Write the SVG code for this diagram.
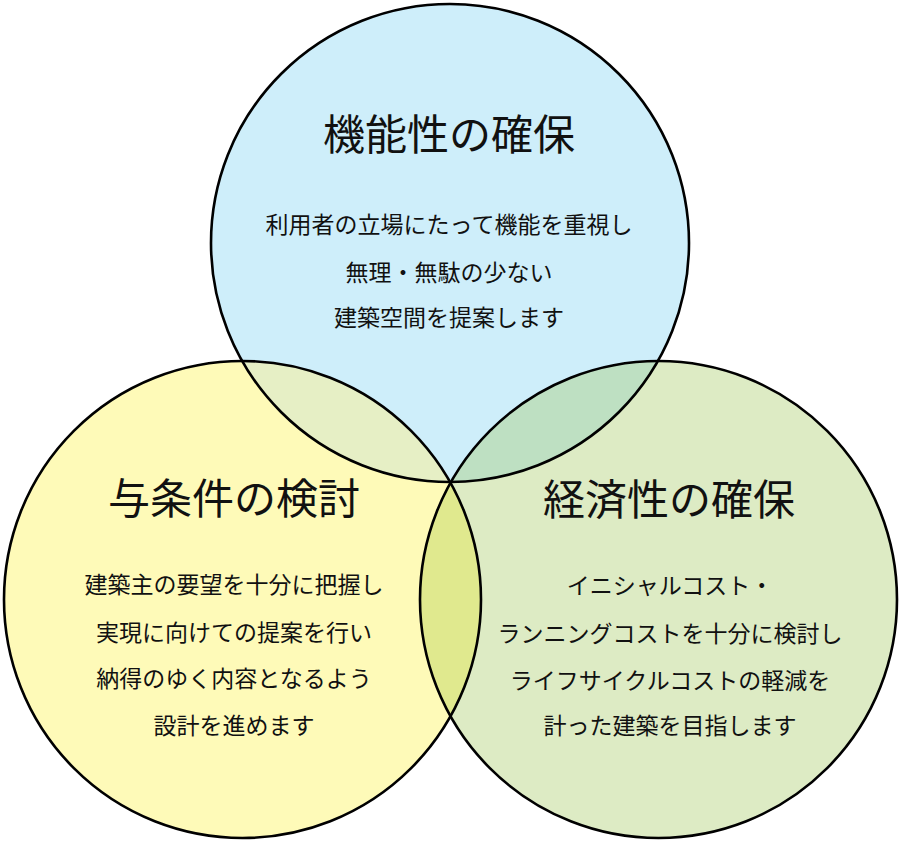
<svg xmlns="http://www.w3.org/2000/svg" width="900" height="843" viewBox="0 0 900 843">
<style>
.t{font-family:"Noto Sans CJK JP","Noto Sans CJK SC",sans-serif;fill:#111;text-anchor:middle}
.h{font-size:42px}
.b{font-size:23px}
.o{fill:none;stroke:#000;stroke-width:2.6}
</style>
<defs>
<clipPath id="cpTop"><circle cx="450" cy="243" r="239"/></clipPath>
<clipPath id="cpLeft"><circle cx="242.5" cy="599.5" r="238.5"/></clipPath>
</defs>
<rect width="900" height="843" fill="#fff"/>
<g id="node-top">
<circle cx="450" cy="243" r="239" fill="#CEEEFA"/>
</g>
<g id="node-left">
<circle cx="242.5" cy="599.5" r="238.5" fill="#FEFAB8"/>
</g>
<g id="node-right">
<circle cx="658.5" cy="599.5" r="238.5" fill="#DDEBC4"/>
</g>
<g id="overlaps">
<circle cx="242.5" cy="599.5" r="238.5" fill="#E6EFC5" clip-path="url(#cpTop)"/>
<circle cx="658.5" cy="599.5" r="238.5" fill="#BEE0C2" clip-path="url(#cpTop)"/>
<circle cx="658.5" cy="599.5" r="238.5" fill="#E0E98E" clip-path="url(#cpLeft)"/>
</g>
<g id="outlines">
<circle class="o" cx="450" cy="243" r="239"/>
<circle class="o" cx="242.5" cy="599.5" r="238.5"/>
<circle class="o" cx="658.5" cy="599.5" r="238.5"/>
</g>
<g id="label-top" class="t">
<text class="h" x="449" y="150">機能性の確保</text>
<text class="b" x="449" y="233">利用者の立場にたって機能を重視し</text>
<text class="b" x="449" y="281">無理・無駄の少ない</text>
<text class="b" x="449" y="326">建築空間を提案します</text>
</g>
<g id="label-left" class="t">
<text class="h" x="234" y="514">与条件の検討</text>
<text class="b" x="234" y="593">建築主の要望を十分に把握し</text>
<text class="b" x="234" y="641">実現に向けての提案を行い</text>
<text class="b" x="234" y="687">納得のゆく内容となるよう</text>
<text class="b" x="234" y="734">設計を進めます</text>
</g>
<g id="label-right" class="t">
<text class="h" x="669" y="515">経済性の確保</text>
<text class="b" x="670" y="594">イニシャルコスト・</text>
<text class="b" x="670" y="642">ランニングコストを十分に検討し</text>
<text class="b" x="670" y="689">ライフサイクルコストの軽減を</text>
<text class="b" x="670" y="734">計った建築を目指します</text>
</g>
</svg>
